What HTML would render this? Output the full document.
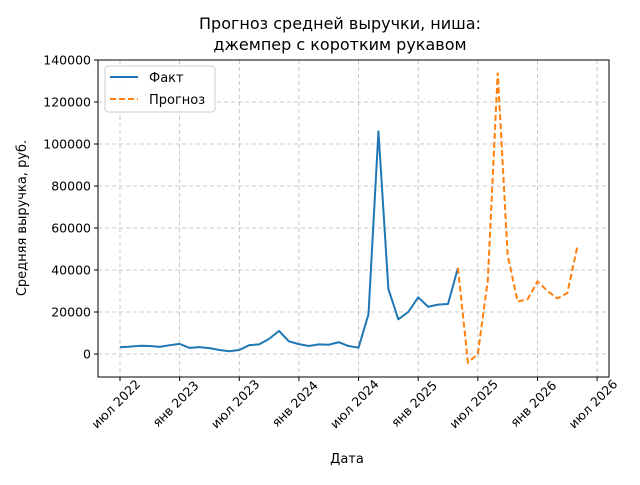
<!DOCTYPE html>
<html><head><meta charset="utf-8"><style>
body{margin:0;background:#fff}
svg text{font-family:"DejaVu Sans","Liberation Sans",sans-serif;fill:#000}
</style></head><body>
<svg id="c" width="640" height="480">
<text x="340" y="29" font-size="16" text-anchor="middle">Прогноз средней выручки, ниша:</text>
<text x="340" y="50" font-size="16" text-anchor="middle">джемпер с коротким рукавом</text>
<text x="347" y="463" font-size="13" text-anchor="middle">Дата</text>
<text transform="translate(26,218) rotate(-90)" font-size="13" text-anchor="middle">Средняя выручка, руб.</text>
<g id="grid"></g><g id="ticks"></g><g id="series"></g>
<rect x="98" y="60" width="511" height="317" fill="none" stroke="#000" stroke-width="1"/>
<g>
<rect x="105" y="66" width="110" height="46" fill="#fff" fill-opacity="0.8" stroke="#ccc" rx="3"/>
<line x1="110" y1="77" x2="138" y2="77" stroke="#1f77b4" stroke-width="2"/>
<text x="149" y="82" font-size="13">Факт</text>
<line x1="110" y1="99" x2="138" y2="99" stroke="#ff7f0e" stroke-width="2" stroke-dasharray="6,3"/>
<text x="149" y="104" font-size="13">Прогноз</text>
</g>
</svg>
<script>
// month index 0 = Jul 2022
const factValues=[3200,3500,3900,3800,3400,4200,4800,2900,3300,2800,1900,1300,1900,4200,4600,7200,11000,6000,4700,3800,4600,4400,5600,3800,3000,19000,106000,31000,16500,20000,27000,22500,23500,23800,41000];
const forecastStart=34;
const forecastValues=[41000,-4000,0,35000,134000,47000,25000,26000,34500,30000,26500,29000,51000];
const yTicks=[0,20000,40000,60000,80000,100000,120000,140000];
const xTickMonths=[0,6,12,18,24,30,36,42,48];
const xTickLabels=["июл 2022","янв 2023","июл 2023","янв 2024","июл 2024","янв 2025","июл 2025","янв 2026","июл 2026"];
const NS="http://www.w3.org/2000/svg";
const X=m=>120+m*9.94;
const Y=v=>354-v*0.0021;
const grid=document.getElementById('grid'),ticks=document.getElementById('ticks'),ser=document.getElementById('series');
function mk(tag,attrs,parent){const e=document.createElementNS(NS,tag);for(const k in attrs)e.setAttribute(k,attrs[k]);parent.appendChild(e);return e;}
yTicks.forEach(v=>{
 const g=mk('line',{x1:98,x2:609,y1:Y(v),y2:Y(v),stroke:'#bbb','stroke-dasharray':'4,3','stroke-width':0.8},grid);
 
 
 const t=mk('line',{x1:94,x2:98,y1:Y(v),y2:Y(v),stroke:'#000'},ticks);
 
 
 const l=mk('text',{x:91,y:Y(v)+4.5,'font-size':12.5,'text-anchor':'end'},ticks);
 l.textContent=v;
 
 
});
xTickMonths.forEach((m,i)=>{
 const x=X(m);
 const g=mk('line',{x1:x,x2:x,y1:60,y2:377,stroke:'#bbb','stroke-dasharray':'4,3','stroke-width':0.8},grid);
 
 
 const t=mk('line',{x1:x,x2:x,y1:377,y2:381,stroke:'#000'},ticks);
 
 
 const l=mk('text',{'font-size':12.5,'text-anchor':'middle',transform:`translate(${x-1},${407}) rotate(-45)`},ticks);
 l.textContent=xTickLabels[i];
 
 
});
const fp=factValues.map((v,i)=>X(i)+','+Y(v)).join(' ');
const f=mk('polyline',{points:fp,fill:'none',stroke:'#1f77b4','stroke-width':2,'stroke-linejoin':'round'},ser);


const pp=forecastValues.map((v,i)=>X(forecastStart+i)+','+Y(v)).join(' ');
const p=mk('polyline',{points:pp,fill:'none',stroke:'#ff7f0e','stroke-width':2,'stroke-dasharray':'6,3'},ser);


</script>
</body></html>
